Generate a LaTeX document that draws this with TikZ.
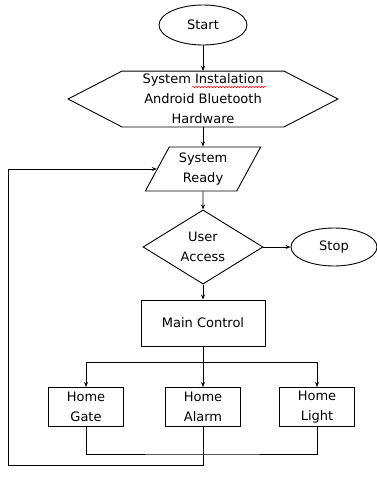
\documentclass[tikz,border=0pt]{standalone}
\usepackage{fontspec}
\setmainfont{DejaVu Sans}
\usetikzlibrary{arrows.meta,shapes.geometric,decorations.pathmorphing}

\begin{document}
\begin{tikzpicture}[x=1pt,y=-1pt,line width=0.9pt,
    every node/.style={font=\fontsize{13}{20}\selectfont,align=center,inner sep=0pt},
    term/.style={draw,ellipse,minimum width=88,minimum height=40},
    hexa/.style={minimum width=161,minimum height=55},
    io/.style={draw,trapezium,trapezium left angle=62,trapezium right angle=118,
      trapezium stretches=true,minimum width=116,minimum height=44},
    choice/.style={draw,diamond,minimum width=120,minimum height=64},
    box/.style={draw,rectangle,minimum width=75,minimum height=39},
    arr/.style={-{Stealth[length=5pt,width=4pt]}}]
    \useasboundingbox (0,0) rectangle (377,477);

    \node[term] (start) at (203,25) {Start};
    \node[hexa] (inst) at (203,99) {System Instalation\\Android Bluetooth\\Hardware};
    \node[io] (ready) at (203,169) {System\\Ready};
    \node[choice] (access) at (203,247) {User\\Access};
    \node[term,minimum width=86,minimum height=38] (stop) at (334,247) {Stop};
    \node[box,minimum width=124,minimum height=46] (ctrl) at (203,323) {Main Control};
    \node[box] (gate) at (86,407) {Home\\Gate};
    \node[box] (alarm) at (203,407) {Home\\Alarm};
    \node[box] (light) at (317,407) {Home\\Light};
    \coordinate (split) at (203,362);
    \coordinate (join) at (203,454);
    \coordinate (back) at (8,465);

    \draw (inst.north west) -- (inst.north east) -- ([xshift=54]inst.east)
      -- (inst.south east) -- (inst.south west) -- ([xshift=-54]inst.west) -- cycle;
    \draw[red,line width=0.5pt,decorate,decoration={snake,amplitude=0.7pt,segment length=3pt}]
      (192,87) -- (266,87);

    \draw[arr] (start) -- (inst);
    \draw[arr] (inst) -- (ready);
    \draw[arr] (ready) -- (access);
    \draw[arr] (access) -- (stop);
    \draw[arr] (access) -- (ctrl);
    \draw (ctrl) -- (split);
    \draw[arr] (split) -| (gate);
    \draw[arr] (split) -- (alarm);
    \draw[arr] (split) -| (light);
    \draw (gate.south) |- (join) -| (light.south);
    \draw[arr] (alarm.south) |- (back) |- (ready);
  \end{tikzpicture}
\end{document}
